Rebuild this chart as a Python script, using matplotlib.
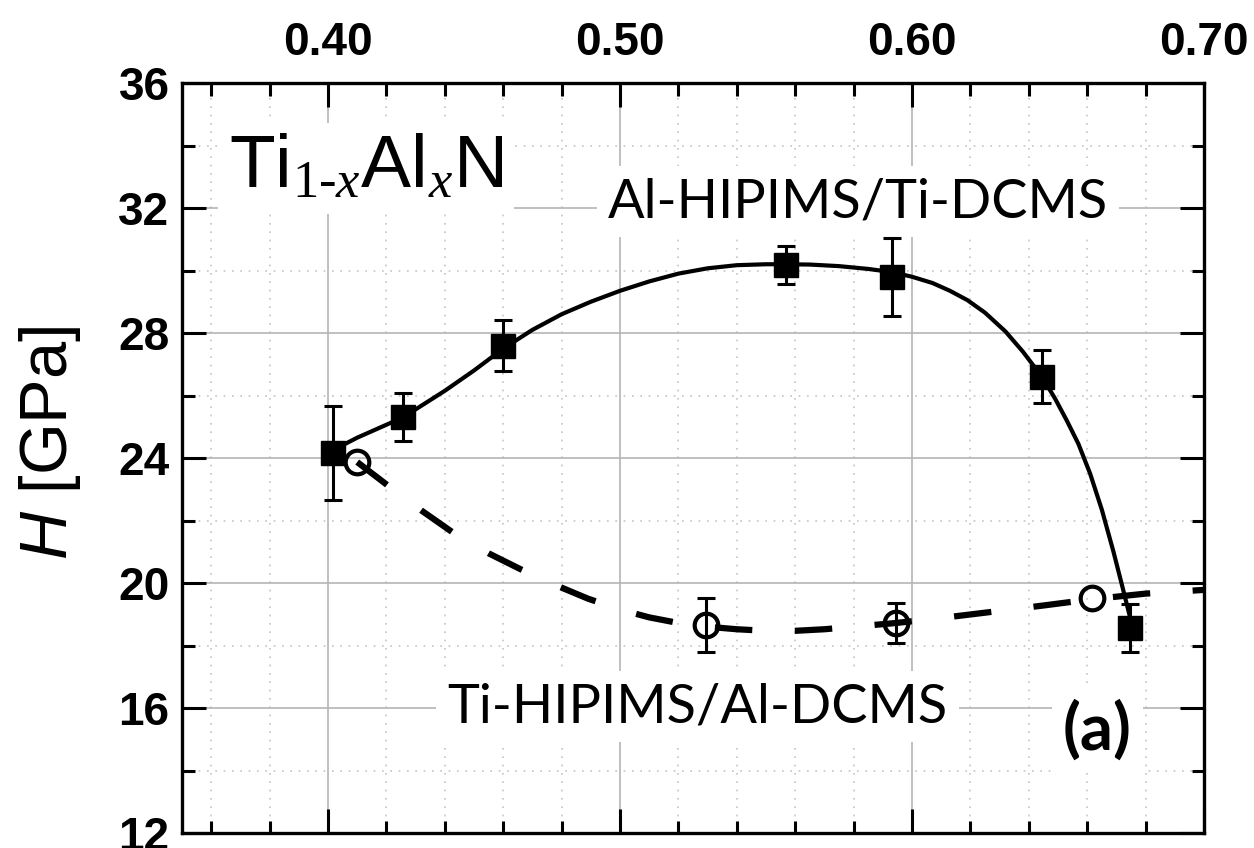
import matplotlib
matplotlib.use("Agg")
import matplotlib.pyplot as plt
from matplotlib.ticker import MultipleLocator, FormatStrFormatter

plt.rcParams['font.family'] = ['Liberation Sans', 'DejaVu Sans']
plt.rcParams['mathtext.fontset'] = 'custom'
plt.rcParams['mathtext.rm'] = 'Liberation Serif'
plt.rcParams['mathtext.it'] = 'Liberation Serif:italic'
plt.rcParams['mathtext.sf'] = 'Liberation Sans:italic'

# Al-HIPIMS/Ti-DCMS films (filled squares)
sq_x = [0.4017, 0.4257, 0.460, 0.557, 0.593, 0.6445, 0.6747]
sq_h = [24.16, 25.31, 27.6, 30.18, 29.8, 26.6, 18.56]
sq_err = [1.5, 0.77, 0.8, 0.6, 1.25, 0.85, 0.77]

# Ti-HIPIMS/Al-DCMS films (open circles)
ci_x = [0.410, 0.5295, 0.5945, 0.6616]
ci_h = [23.87, 18.66, 18.72, 19.52]
ci_err = [0.0, 0.87, 0.64, 0.0]

# guide-to-the-eye curves
fit_sq_x = [0.4017, 0.41, 0.4257, 0.44, 0.45, 0.46, 0.47, 0.48, 0.49, 0.50,
            0.51, 0.52, 0.53, 0.54, 0.55, 0.557, 0.565, 0.575, 0.585, 0.593,
            0.60, 0.607, 0.613, 0.619, 0.625, 0.632, 0.638, 0.6445, 0.649,
            0.653, 0.657, 0.661, 0.665, 0.669, 0.672, 0.6755]
fit_sq_h = [24.25, 24.65, 25.3, 26.15, 26.8, 27.5, 28.1, 28.6, 29.0, 29.35,
            29.65, 29.9, 30.07, 30.17, 30.2, 30.2, 30.19, 30.14, 30.05, 29.95,
            29.8, 29.6, 29.35, 29.05, 28.65, 28.05, 27.4, 26.6, 25.9,
            25.2, 24.45, 23.5, 22.35, 21.0, 19.9, 18.6]
fit_ci_x = [0.410, 0.4205, 0.432, 0.443, 0.455, 0.4664, 0.478, 0.489, 0.500,
            0.510, 0.520, 0.530, 0.540, 0.550, 0.560, 0.570, 0.580, 0.5945,
            0.610, 0.625, 0.645, 0.6616, 0.680, 0.700]
fit_ci_h = [23.87, 23.12, 22.32, 21.6, 20.95, 20.42, 19.93, 19.5, 19.15,
            18.9, 18.72, 18.6, 18.52, 18.47, 18.47, 18.52, 18.6, 18.72,
            18.88, 19.05, 19.28, 19.48, 19.66, 19.78]

fig = plt.figure(figsize=(12.54, 8.48), dpi=100)
ax = fig.add_axes([182/1254, 15/848, 1022/1254, 750/848])

ax.set_xlim(0.35, 0.70)
ax.set_ylim(12, 36)
ax.xaxis.set_major_locator(MultipleLocator(0.10))
ax.xaxis.set_minor_locator(MultipleLocator(0.02))
ax.xaxis.set_major_formatter(FormatStrFormatter('%.2f'))
ax.yaxis.set_major_locator(MultipleLocator(4))
ax.yaxis.set_minor_locator(MultipleLocator(2))

ax.set_axisbelow(True)
ax.grid(which='major', color='#b5b5b5', lw=1.2, ls='-')
ax.grid(which='minor', color='#c4c4c4', lw=1.2, ls=(0, (1, 4)))

for s in ax.spines.values():
    s.set_linewidth(2.4)
ax.tick_params(which='both', direction='in', top=True, bottom=True,
               left=True, right=True, labeltop=True, labelbottom=False,
               width=2.2)
ax.tick_params(which='major', length=17)
ax.tick_params(which='minor', length=9)
ax.tick_params(axis='x', which='major', pad=13)
ax.tick_params(axis='y', which='major', pad=9)
for lab in ax.get_xticklabels() + ax.get_yticklabels():
    lab.set_fontsize(33)
    lab.set_fontweight('bold')

# curves
ax.plot(fit_sq_x, fit_sq_h, color='k', lw=3, zorder=3)
ax.plot(fit_ci_x, fit_ci_h, color='k', lw=4.5, dashes=(6, 6.8), zorder=3)

# squares with error bars
ax.errorbar(sq_x, sq_h, yerr=sq_err, fmt='s', ms=17, color='k',
            ecolor='k', elinewidth=2.2, capsize=6.5, capthick=2.2, zorder=4)

# circles; error bars only where a spread was measured
ex = [x for x, e in zip(ci_x, ci_err) if e > 0]
ey = [h for h, e in zip(ci_h, ci_err) if e > 0]
ee = [e for e in ci_err if e > 0]
ax.errorbar(ex, ey, yerr=ee, fmt='none', ecolor='k', elinewidth=2.2,
            capsize=6.5, capthick=2.2, zorder=4)
ax.plot(ci_x, ci_h, 'o', ms=17, mfc='none', mec='k', mew=3, zorder=5)

white = dict(facecolor='white', edgecolor='none', pad=8)
ax.text(0.3661, 32.64, r'Ti$_{\mathrm{1\text{-}}x}$Al$_{x}$N', fontsize=54,
        ha='left', va='baseline', bbox=white, zorder=1.5)
ax.text(0.5815, 31.71, 'Al-HIPIMS/Ti-DCMS', fontsize=39, family='Lato',
        ha='center', va='baseline', bbox=white, zorder=1.5)
ax.text(0.5264, 15.55, 'Ti-HIPIMS/Al-DCMS', fontsize=39, family='Lato',
        ha='center', va='baseline', bbox=white, zorder=1.5)
ax.text(0.6634, 15.3, '(a)', fontsize=47, family='Lato', fontweight='bold',
        ha='center', va='center', bbox=white, zorder=1.5)

fig.text(50/1254, 1 - 443/848, r'$\mathsf{H}$ [GPa]', fontsize=48,
         rotation=90, ha='center', va='center')

fig.savefig('out.png', dpi=100)
